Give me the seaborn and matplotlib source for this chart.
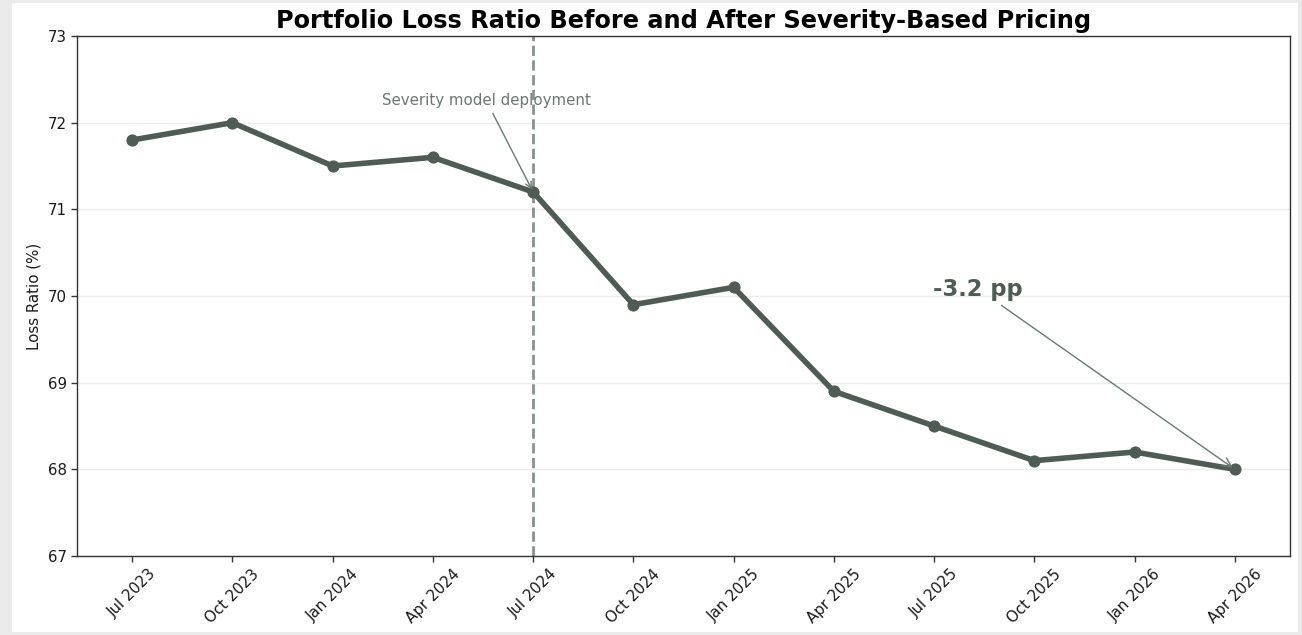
import matplotlib
matplotlib.use("Agg")
import matplotlib.pyplot as plt
import seaborn as sns
import pandas as pd
from matplotlib.patches import Rectangle

quarters = ["Jul 2023", "Oct 2023", "Jan 2024", "Apr 2024", "Jul 2024", "Oct 2024",
            "Jan 2025", "Apr 2025", "Jul 2025", "Oct 2025", "Jan 2026", "Apr 2026"]
loss_ratio = [71.8, 72.0, 71.5, 71.6, 71.2, 69.9, 70.1, 68.9, 68.5, 68.1, 68.2, 68.0]
deploy_label = "Jul 2024"
change_label = "-3.2 pp"

sns.set_style("white")
plt.rcParams['font.family'] = ['DejaVu Sans']
plt.rcParams['text.color'] = '#1a1a1a'
plt.rcParams['axes.labelcolor'] = '#1a1a1a'
plt.rcParams['xtick.color'] = '#1a1a1a'
plt.rcParams['ytick.color'] = '#1a1a1a'

df = pd.DataFrame({"idx": range(len(quarters)), "quarter": quarters, "loss": loss_ratio})

fig = plt.figure(figsize=(13.02, 6.35), dpi=100)
fig.patch.set_facecolor("#ebebeb")
fig.patches.append(Rectangle((12/1302, 3/635), (1298-12)/1302, (632-3)/635,
                             transform=fig.transFigure, facecolor="white",
                             edgecolor="none", zorder=-1))
ax = fig.add_axes([77/1302, 1-556/635, (1290-77)/1302, (556-36)/635])

line_color = "#4f5b55"
sns.lineplot(data=df, x="idx", y="loss", ax=ax, color=line_color, linewidth=4,
             marker="o", markersize=8, markeredgecolor=line_color, zorder=3)

dep_i = quarters.index(deploy_label)
ax.axvline(dep_i, color="#87928d", linestyle="--", linewidth=2, zorder=2)

ax.set_ylim(67, 73)
ax.set_xticks(range(len(quarters)))
ax.set_xticklabels(quarters, rotation=45, fontsize=10.8)
ax.tick_params(axis="y", labelsize=10.8)
ax.tick_params(axis="both", which="major", length=4, width=1, bottom=True, left=True, color="#333333")
ax.set_xlabel("")
ax.set_ylabel("Loss Ratio (%)", fontsize=10.8)
ax.grid(axis="y", color="#ececec", linewidth=1)
ax.grid(axis="x", visible=False)
for s in ax.spines.values():
    s.set_visible(True)
    s.set_color("#333333")
    s.set_linewidth(1)

ax.set_title("Portfolio Loss Ratio Before and After Severity-Based Pricing",
             fontsize=17.3, fontweight="bold", pad=6, color="black")

ax.annotate("Severity model deployment", xy=(dep_i, loss_ratio[dep_i]),
            xytext=(3.53, 72.26), ha="center", va="center", fontsize=10.8,
            color="#6b7772",
            arrowprops=dict(arrowstyle="->", color="#6b7772", lw=1))

last = len(quarters) - 1
ax.annotate(change_label, xy=(last, loss_ratio[last]), xytext=(8.44, 70.08),
            ha="center", va="center", fontsize=16.3, fontweight="bold",
            color=line_color,
            arrowprops=dict(arrowstyle="->", color="#6b7772", lw=1))

fig.savefig("out.png", dpi=100, facecolor=fig.get_facecolor())
